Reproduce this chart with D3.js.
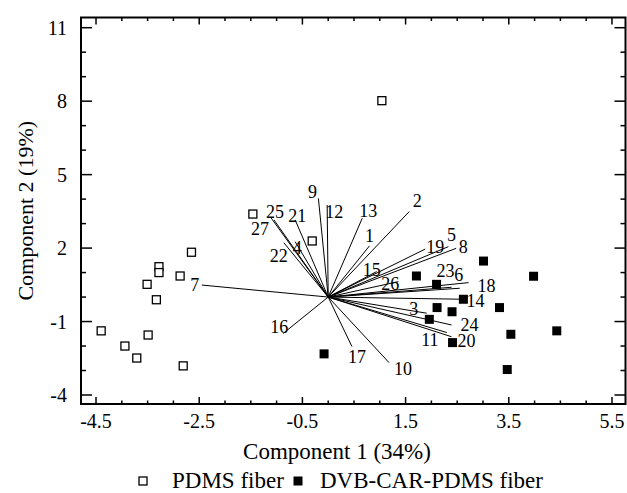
<!DOCTYPE html>
<html>
<head>
<meta charset="utf-8">
<script src="https://cdn.jsdelivr.net/npm/d3@7/dist/d3.min.js"></script>
<style>
  body { margin: 0; background: #fff; }
  svg { display: block; font-family: "Liberation Serif", "Times New Roman", serif; }
</style>
</head>
<body>
<svg id="chart" width="627" height="493"></svg>
<script>
// tick labels
var xTicks = [-4.5, -2.5, -0.5, 1.5, 3.5, 5.5];
var yTicks = [11, 8, 5, 2, -1, -4];

// scores, PDMS fiber (open squares)
var pdmsX = [-2.65, -3.28, -3.28, -2.87, -3.51, -3.33, -4.40, -3.49, -3.94, -3.71, -2.81, -1.46, -0.31, 1.04];
var pdmsY = [1.83, 1.24, 1.00, 0.86, 0.52, -0.11, -1.38, -1.55, -2.00, -2.49, -2.81, 3.39, 2.29, 8.02];

// scores, DVB-CAR-PDMS fiber (filled squares)
var dvbX = [-0.08, 1.71, 2.10, 2.62, 2.11, 2.40, 1.96, 2.41, 3.01, 3.98, 3.32, 3.54, 4.43, 3.47];
var dvbY = [-2.32, 0.86, 0.52, -0.09, -0.43, -0.60, -0.91, -1.86, 1.47, 0.85, -0.43, -1.52, -1.38, -2.96];

// loadings (variables 1..27)
var loadNames = ["1","2","3","4","5","6","7","8","9","10","11","12","13","14","15","16","17","18","19","20","21","22","23","24","25","26","27"];
var loadX = [0.80, 1.57, 1.91, -0.64, 2.33, 2.55, -2.45, 2.48, -0.19, 1.18, 2.30, -0.02, 0.66, 2.62, 0.94, -0.87, 0.46, 2.72, 1.88, 2.39, -0.64, -0.86, 2.39, 2.39, -1.11, 1.36, -1.05];
var loadY = [2.09, 3.49, -0.66, 2.26, 2.06, 0.36, 0.49, 1.99, 4.03, -2.68, -1.45, 3.76, 3.22, -0.09, 1.04, -1.48, -2.02, 0.59, 1.96, -1.62, 3.15, 2.22, 0.40, -1.14, 3.24, 0.63, 3.15];

// label placement around each arrow tip (px)
var labelNudge = {
  "1": [0, -10], "2": [8, -11], "3": [-13, -4], "4": [2, 6], "5": [3, -12],
  "6": [-1, -13], "7": [-7, 0], "8": [7, -1], "9": [-6, -6], "10": [14, 6],
  "11": [-17, 7], "12": [7, 7], "13": [6, -7], "14": [12, 2], "15": [-5, -2],
  "16": [-4, -6], "17": [5, 10], "18": [18, 3], "19": [10, -2], "20": [15, 4],
  "21": [2, -4], "22": [-5, 13], "23": [-6, -16], "24": [18, 0], "25": [4, -6],
  "26": [-8, 2], "27": [-14, 9]
};

var svg = d3.select("#chart");
var pLeft = 81, pRight = 625.5, pTop = 17.5, pBottom = 404;

var x = d3.scaleLinear().domain([-4.791, 5.762]).range([pLeft, pRight]);
var y = d3.scaleLinear().domain([-4.3675, 11.417]).range([pBottom, pTop]);

var xMinor = d3.range(-4.5, 5.51, 0.5);
var yMinor = d3.range(-4, 11.01, 1);

function isMajor(v, list) {
  return list.some(function(t) { return Math.abs(t - v) < 1e-6; });
}

// ticks, all pointing inward, on all four sides
var ticks = svg.append("g").attr("stroke", "#000").attr("stroke-width", 1.5);
xMinor.forEach(function(v) {
  var len = isMajor(v, xTicks) ? 7 : 3.5;
  ticks.append("line").attr("x1", x(v)).attr("x2", x(v)).attr("y1", pBottom).attr("y2", pBottom - len);
  ticks.append("line").attr("x1", x(v)).attr("x2", x(v)).attr("y1", pTop).attr("y2", pTop + len);
});
yMinor.forEach(function(v) {
  var len = isMajor(v, yTicks) ? 11 : 5;
  ticks.append("line").attr("y1", y(v)).attr("y2", y(v)).attr("x1", pLeft).attr("x2", pLeft + len);
  ticks.append("line").attr("y1", y(v)).attr("y2", y(v)).attr("x1", pRight).attr("x2", pRight - len);
});

svg.append("rect")
  .attr("x", pLeft).attr("y", pTop)
  .attr("width", pRight - pLeft).attr("height", pBottom - pTop)
  .attr("fill", "none").attr("stroke", "#000").attr("stroke-width", 2);

// tick labels
svg.append("g").selectAll("text").data(xTicks).join("text")
  .attr("x", function(d) { return x(d); })
  .attr("y", 428)
  .attr("text-anchor", "middle")
  .attr("font-size", 20)
  .text(function(d) { return d3.format(".1f")(d).replace("−", "-"); });

svg.append("g").selectAll("text").data(yTicks).join("text")
  .attr("x", 67)
  .attr("y", function(d) { return y(d) + 7; })
  .attr("text-anchor", "end")
  .attr("font-size", 20)
  .text(function(d) { return String(d); });

// axis titles
svg.append("text")
  .attr("x", 337).attr("y", 459)
  .attr("text-anchor", "middle").attr("font-size", 23)
  .text("Component 1 (34%)");

svg.append("text")
  .attr("transform", "translate(33," + ((pTop + pBottom) / 2) + ") rotate(-90)")
  .attr("text-anchor", "middle").attr("font-size", 22)
  .text("Component 2 (19%)");

// loading vectors
var loads = loadNames.map(function(n, i) { return { name: n, x: loadX[i], y: loadY[i] }; });

svg.append("g").selectAll("line").data(loads).join("line")
  .attr("x1", x(0)).attr("y1", y(0))
  .attr("x2", function(d) { return x(d.x); })
  .attr("y2", function(d) { return y(d.y); })
  .attr("stroke", "#000").attr("stroke-width", 1);

svg.append("g").selectAll("text").data(loads).join("text")
  .attr("x", function(d) { return x(d.x) + labelNudge[d.name][0]; })
  .attr("y", function(d) { return y(d.y) + labelNudge[d.name][1] + 6; })
  .attr("text-anchor", "middle")
  .attr("font-size", 18)
  .text(function(d) { return d.name; });

// score points
var sq = 8;
var pdms = pdmsX.map(function(v, i) { return [v, pdmsY[i]]; });
var dvb = dvbX.map(function(v, i) { return [v, dvbY[i]]; });

svg.append("g").selectAll("rect").data(pdms).join("rect")
  .attr("x", function(d) { return x(d[0]) - sq / 2; })
  .attr("y", function(d) { return y(d[1]) - sq / 2; })
  .attr("width", sq).attr("height", sq)
  .attr("fill", "#fff").attr("stroke", "#000").attr("stroke-width", 1.3);

svg.append("g").selectAll("rect").data(dvb).join("rect")
  .attr("x", function(d) { return x(d[0]) - sq / 2 - 0.5; })
  .attr("y", function(d) { return y(d[1]) - sq / 2 - 0.5; })
  .attr("width", sq + 1).attr("height", sq + 1)
  .attr("fill", "#000");

// legend
var legend = svg.append("g");
legend.append("rect").attr("x", 139).attr("y", 477).attr("width", 8).attr("height", 8)
  .attr("fill", "#fff").attr("stroke", "#000").attr("stroke-width", 1.3);
legend.append("text").attr("x", 172).attr("y", 488).attr("font-size", 23).text("PDMS fiber");
legend.append("rect").attr("x", 293.5).attr("y", 476.5).attr("width", 9).attr("height", 9)
  .attr("fill", "#000");
legend.append("text").attr("x", 320).attr("y", 488).attr("font-size", 23).text("DVB-CAR-PDMS fiber");
</script>
</body>
</html>
